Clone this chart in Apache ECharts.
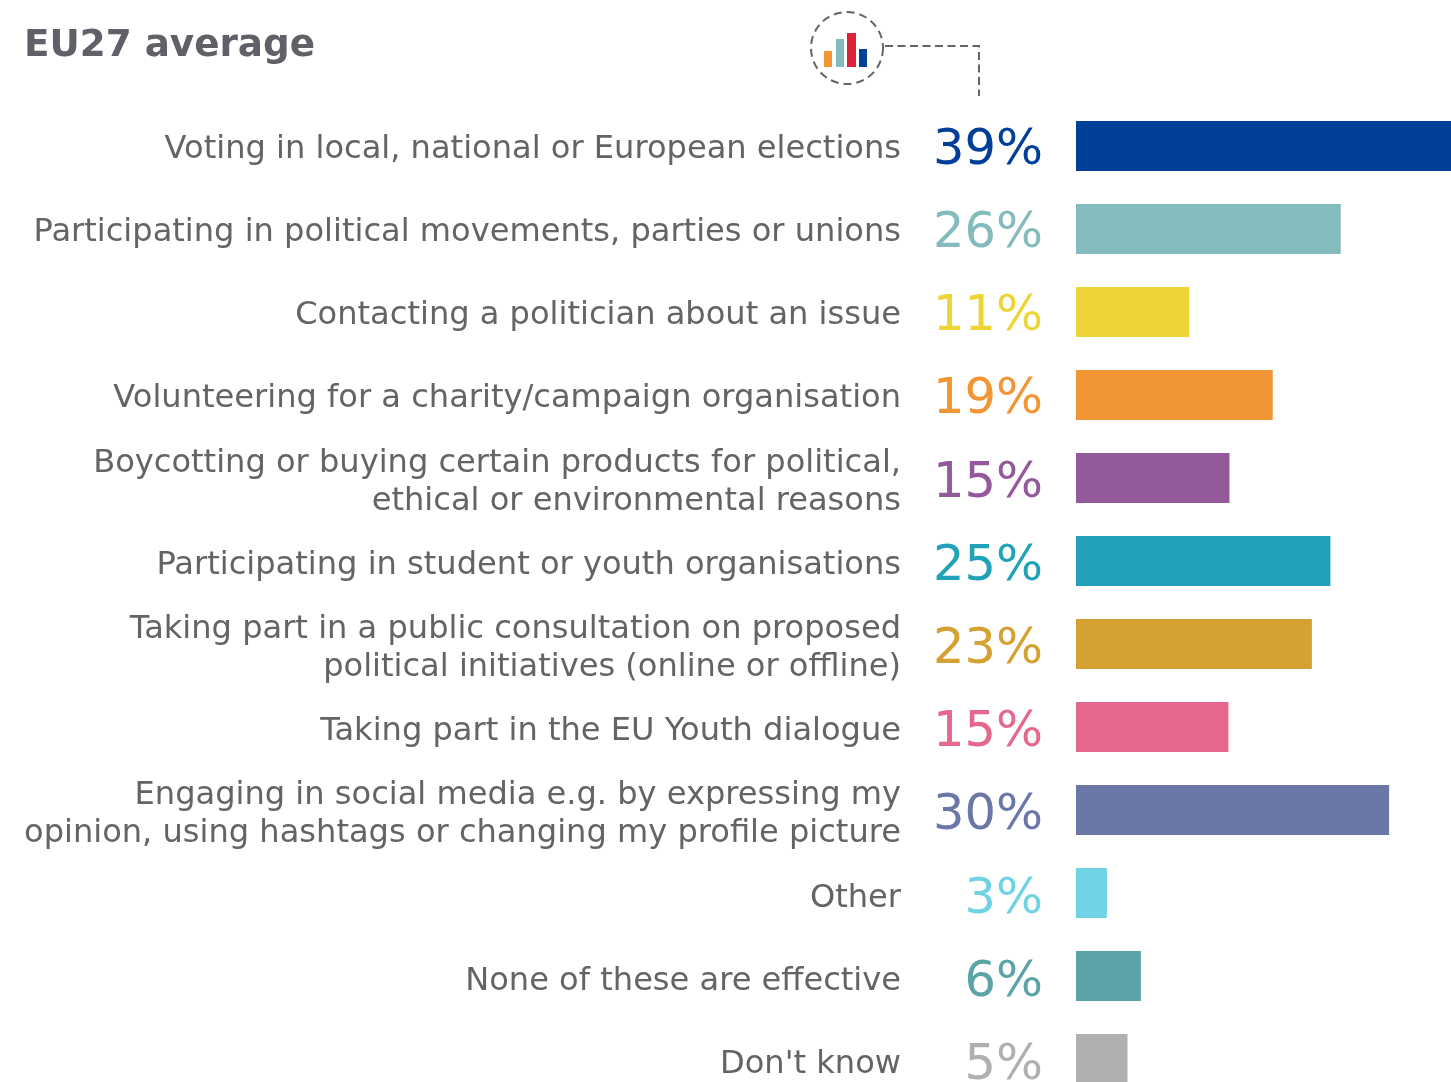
<!DOCTYPE html>
<html lang="en">
<head>
    <meta charset="UTF-8"/>
    <title>EU27 average</title>
    <script src="https://cdn.jsdelivr.net/npm/echarts@6"></script>
    <style>
        html, body { margin: 0; padding: 0; background: #fff; overflow: hidden; }
        #chart { width: 1451px; height: 1082px; }
    </style>
</head>
<body>
<div id="chart"></div>
<script>
    const categories = [
        "Voting in local, national or European elections",
        "Participating in political movements, parties or unions",
        "Contacting a politician about an issue",
        "Volunteering for a charity/campaign organisation",
        "Boycotting or buying certain products for political,\nethical or environmental reasons",
        "Participating in student or youth organisations",
        "Taking part in a public consultation on proposed\npolitical initiatives (online or offline)",
        "Taking part in the EU Youth dialogue",
        "Engaging in social media e.g. by expressing my\nopinion, using hashtags or changing my profile picture",
        "Other",
        "None of these are effective",
        "Don't know"
    ];
    // bar lengths, printed labels are the rounded figures
    const barValues = [39, 25.7, 11, 19.1, 14.9, 24.7, 22.9, 14.8, 30.4, 3, 6.3, 5];
    const valueLabels = ["39%", "26%", "11%", "19%", "15%", "25%", "23%", "15%", "30%", "3%", "6%", "5%"];
    const barColors = ["#003f98", "#84bbbc", "#edd538", "#f29534", "#93599b", "#22a2b8",
        "#d4a132", "#e6678c", "#6b77a7", "#6fd3e4", "#5aa4a8", "#b0b0b0"];

    const chart = echarts.init(document.getElementById("chart"));
    chart.setOption({
        animation: false,
        title: {
            text: "EU27 average",
            left: 19,
            top: 23,
            textStyle: {fontFamily: "DejaVu Sans", fontSize: 37.3, fontWeight: "bold", color: "#5f6068"}
        },
        // the first bar runs off the right edge and the last off the bottom, as in the source
        // grids 1 and 2 carry the text rows: their pitch is a bit wider than the bars
        grid: [
            {left: 1076, top: 104.5, width: 412, height: 996, outerBoundsMode: "none"},
            {left: 1076, top: 107.9, width: 412, height: 998.4, outerBoundsMode: "none"},
            {left: 1076, top: 109.4, width: 412, height: 998.4, outerBoundsMode: "none"}
        ],
        xAxis: [
            {type: "value", gridIndex: 0, min: 0, max: 40, show: false},
            {type: "value", gridIndex: 1, min: 0, max: 40, show: false},
            {type: "value", gridIndex: 2, min: 0, max: 40, show: false}
        ],
        yAxis: [
            {type: "category", gridIndex: 0, inverse: true, data: categories, show: false},
            {
                type: "category",
                gridIndex: 1,
                inverse: true,
                data: categories,
                axisLine: {show: false},
                axisTick: {show: false},
                axisLabel: {
                    margin: 175,
                    align: "right",
                    fontFamily: "DejaVu Sans",
                    fontSize: 32.1,
                    lineHeight: 38,
                    color: "#636466"
                }
            },
            {
                type: "category",
                gridIndex: 2,
                inverse: true,
                data: valueLabels,
                axisLine: {show: false},
                axisTick: {show: false},
                axisLabel: {
                    margin: 33,
                    align: "right",
                    fontFamily: "DejaVu Sans",
                    fontSize: 49.5,
                    color: (value, index) => barColors[index]
                }
            }
        ],
        series: [{
            type: "bar",
            xAxisIndex: 0,
            yAxisIndex: 0,
            barWidth: 50,
            data: barValues.map((v, i) => ({value: v, itemStyle: {color: barColors[i]}}))
        }],
        graphic: [
            {type: "circle", shape: {cx: 847, cy: 48, r: 36}, style: {fill: "none", stroke: "#636466", lineWidth: 2, lineDash: [8, 5]}},
            {type: "polyline", shape: {points: [[885, 46], [979, 46], [979, 96]]}, style: {fill: "none", stroke: "#636466", lineWidth: 2, lineDash: [8, 4.5]}},
            {type: "rect", shape: {x: 824, y: 51, width: 8, height: 16}, style: {fill: "#f29534"}},
            {type: "rect", shape: {x: 836, y: 39, width: 8, height: 28}, style: {fill: "#84bbbc"}},
            {type: "rect", shape: {x: 847, y: 33, width: 9, height: 34}, style: {fill: "#dc2339"}},
            {type: "rect", shape: {x: 859, y: 49, width: 8, height: 18}, style: {fill: "#003f98"}}
        ]
    });
</script>
</body>
</html>
